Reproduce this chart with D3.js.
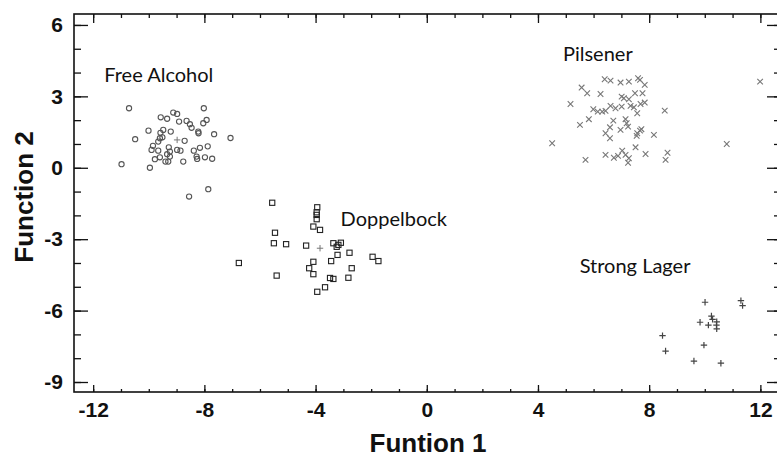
<!DOCTYPE html>
<html>
<head>
<meta charset="utf-8">
<script src="https://cdn.jsdelivr.net/npm/d3@7"></script>
<style>
  body { margin: 0; background: #fff; }
  svg { display: block; overflow: hidden; }
  .tick text { font-family: "Liberation Sans", Arial, sans-serif; font-weight: bold; font-size: 21px; fill: #111; }
</style>
</head>
<body>
<div id="chart"></div>
<script>
// discriminant scores: [function 1, function 2]
var freeAlcohol = [
  [-10.71, 2.50], [-8.02, 2.50], [-9.12, 2.32], [-8.98, 2.26], [-9.57, 2.12], [-9.34, 2.06],
  [-8.91, 1.94], [-8.64, 1.97], [-8.52, 1.83], [-7.92, 2.01], [-8.04, 1.87], [-8.46, 1.68],
  [-8.22, 1.52], [-8.21, 1.45], [-10.01, 1.56], [-9.48, 1.59], [-9.21, 1.52], [-9.58, 1.47],
  [-7.65, 1.41], [-10.49, 1.20], [-7.06, 1.25], [-9.60, 1.24], [-9.66, 1.10], [-9.51, 1.28],
  [-8.71, 1.13], [-9.85, 0.92], [-9.90, 0.75], [-9.66, 0.72], [-9.28, 0.86], [-9.24, 0.68],
  [-8.98, 0.75], [-8.86, 0.72], [-8.38, 0.72], [-8.16, 0.84], [-7.88, 0.90], [-9.34, 0.57],
  [-9.24, 0.47], [-9.60, 0.44], [-9.78, 0.36], [-9.40, 0.26], [-9.30, 0.26], [-8.76, 0.26],
  [-8.28, 0.47], [-8.26, 0.37], [-7.98, 0.44], [-7.72, 0.38], [-10.98, 0.15], [-9.96, 0.00],
  [-7.86, -0.90], [-8.55, -1.21]
];
var doppelbock = [
  [-5.56, -1.47], [-3.94, -1.66], [-3.96, -1.87], [-3.96, -1.98], [-3.96, -2.16], [-4.08, -2.47],
  [-3.84, -2.61], [-5.46, -2.73], [-5.50, -3.17], [-5.06, -3.21], [-4.34, -3.27], [-3.36, -3.17],
  [-3.18, -3.24], [-3.09, -3.15], [-3.24, -3.32], [-3.21, -3.66], [-2.78, -3.57], [-3.44, -3.92],
  [-1.95, -3.74], [-1.74, -3.92], [-4.08, -3.95], [-4.23, -4.22], [-4.08, -4.47], [-2.70, -4.22],
  [-5.40, -4.53], [-3.48, -4.63], [-3.36, -4.67], [-2.82, -4.62], [-3.94, -5.21], [-3.66, -5.02],
  [-6.76, -4.00]
];
var pilsener = [
  [6.40, 3.72], [6.61, 3.66], [6.97, 3.58], [7.27, 3.62], [7.60, 3.76], [7.67, 3.69], [7.84, 3.48],
  [5.57, 3.37], [5.77, 3.13], [6.25, 3.10], [7.01, 2.99], [7.09, 2.92], [7.27, 2.88], [7.49, 3.13],
  [7.76, 3.13], [7.84, 2.74], [7.69, 2.68], [5.17, 2.68], [5.99, 2.46], [6.15, 2.36], [6.31, 2.36],
  [6.43, 2.39], [6.61, 2.60], [6.79, 2.50], [7.01, 2.57], [7.33, 2.60], [7.45, 2.54], [7.57, 2.29],
  [8.56, 2.40], [5.83, 2.04], [5.51, 1.80], [6.71, 1.98], [7.15, 2.04], [7.19, 1.87], [7.24, 1.73],
  [6.97, 1.59], [6.59, 1.70], [6.43, 1.45], [6.59, 1.24], [7.57, 1.45], [7.67, 1.56], [7.72, 1.62],
  [7.55, 1.34], [8.17, 1.38], [4.51, 1.03], [10.79, 1.00], [11.99, 3.62], [5.71, 0.33], [6.43, 0.54],
  [6.73, 0.42], [6.88, 0.50], [7.03, 0.72], [7.15, 0.54], [7.27, 0.40], [7.24, 0.21], [7.51, 0.86],
  [7.87, 0.58], [8.66, 0.63], [8.59, 0.33]
];
var strongLager = [
  [10.01, -5.65], [11.30, -5.58], [11.36, -5.79], [10.24, -6.23], [10.28, -6.37], [10.43, -6.47],
  [9.83, -6.49], [10.13, -6.61], [10.42, -6.61], [10.43, -6.77], [8.48, -7.05], [9.97, -7.45],
  [8.59, -7.70], [9.61, -8.12], [10.58, -8.21]
];
var centroids = [[-8.98, 1.17], [-3.84, -3.38]];

var groupNames = ["Free Alcohol", "Doppelbock", "Pilsener", "Strong Lager"];
var labelAt = [[-11.6, 3.6], [-3.1, -2.45], [4.9, 4.5], [5.5, -4.4]];

var xMajor = [-12, -8, -4, 0, 4, 8, 12];
var yMajor = [-9, -6, -3, 0, 3, 6];
var xMinor = d3.range(-12, 13, 1);
var yMinor = d3.range(-9, 7, 1);

var W = 777, H = 459;
var svg = d3.select("#chart").append("svg").attr("width", W).attr("height", H);

var x = d3.scaleLinear().domain([-12.69, 12.67]).range([74, 779]);
var y = d3.scaleLinear().domain([-9.42, 6.46]).range([392, 14]);

// plain hyphen minus like the original
var fmt = function(d) { return String(d); };

// axes: ticks point into the plot, labels only on left and bottom
function axisG(axis, tx, ty) {
  var g = svg.append("g").attr("transform", "translate(" + tx + "," + ty + ")").call(axis);
  g.select(".domain").remove();
  g.selectAll(".tick line").attr("stroke", "#111").attr("stroke-width", 1.3);
  return g;
}
axisG(d3.axisBottom(x).tickValues(xMinor).tickSize(-3).tickFormat(""), 0, 392);
axisG(d3.axisBottom(x).tickValues(xMajor).tickSize(-7).tickPadding(10).tickFormat(fmt), 0, 392);
axisG(d3.axisTop(x).tickValues(xMinor).tickSize(-4).tickFormat(""), 0, 14);
axisG(d3.axisTop(x).tickValues(xMajor).tickSize(-9).tickFormat(""), 0, 14);
axisG(d3.axisLeft(y).tickValues(yMinor).tickSize(-7).tickFormat(""), 74, 0);
axisG(d3.axisLeft(y).tickValues(yMajor).tickSize(-14).tickPadding(11).tickFormat(fmt), 74, 0);
axisG(d3.axisRight(y).tickValues(yMinor).tickSize(-5).tickFormat(""), 779, 0);
axisG(d3.axisRight(y).tickValues(yMajor).tickSize(-12).tickFormat(""), 779, 0);

svg.append("rect")
  .attr("x", 74).attr("y", 14).attr("width", 779 - 74).attr("height", 392 - 14)
  .attr("fill", "none").attr("stroke", "#111").attr("stroke-width", 1.6);

// markers
svg.append("g").selectAll("circle").data(freeAlcohol).enter().append("circle")
  .attr("cx", function(d) { return x(d[0]); })
  .attr("cy", function(d) { return y(d[1]); })
  .attr("r", 2.6)
  .attr("fill", "none").attr("stroke", "#555").attr("stroke-width", 1.1);

svg.append("g").selectAll("rect").data(doppelbock).enter().append("rect")
  .attr("x", function(d) { return x(d[0]) - 2.6; })
  .attr("y", function(d) { return y(d[1]) - 2.6; })
  .attr("width", 5.2).attr("height", 5.2)
  .attr("fill", "none").attr("stroke", "#222").attr("stroke-width", 1.1);

svg.append("g").selectAll("path").data(pilsener).enter().append("path")
  .attr("d", function(d) {
    var cx = x(d[0]), cy = y(d[1]), s = 2.8;
    return "M" + (cx - s) + "," + (cy - s) + "L" + (cx + s) + "," + (cy + s) +
           "M" + (cx - s) + "," + (cy + s) + "L" + (cx + s) + "," + (cy - s);
  })
  .attr("stroke", "#777").attr("stroke-width", 1.1).attr("fill", "none");

function plus(d) {
  var cx = x(d[0]), cy = y(d[1]), s = 3.2;
  return "M" + (cx - s) + "," + cy + "L" + (cx + s) + "," + cy +
         "M" + cx + "," + (cy - s) + "L" + cx + "," + (cy + s);
}
svg.append("g").selectAll("path").data(strongLager).enter().append("path")
  .attr("d", plus).attr("stroke", "#444").attr("stroke-width", 1.2).attr("fill", "none");
svg.append("g").selectAll("path").data(centroids).enter().append("path")
  .attr("d", plus).attr("stroke", "#777").attr("stroke-width", 1).attr("fill", "none");

// group labels
svg.append("g").selectAll("text").data(groupNames).enter().append("text")
  .attr("x", function(d, i) { return x(labelAt[i][0]); })
  .attr("y", function(d, i) { return y(labelAt[i][1]); })
  .attr("font-family", "Lato, 'Open Sans', sans-serif")
  .attr("font-size", 20)
  .attr("fill", "#111")
  .text(function(d) { return d; });

// axis titles
svg.append("text")
  .attr("x", 428).attr("y", 452)
  .attr("text-anchor", "middle")
  .attr("font-family", "'Liberation Sans', Arial, sans-serif")
  .attr("font-weight", "bold").attr("font-size", 26).attr("fill", "#111")
  .text("Funtion 1");

svg.append("text")
  .attr("transform", "translate(33,197) rotate(-90)")
  .attr("text-anchor", "middle")
  .attr("font-family", "'Liberation Sans', Arial, sans-serif")
  .attr("font-weight", "bold").attr("font-size", 26).attr("fill", "#111")
  .text("Function 2");
</script>
</body>
</html>
